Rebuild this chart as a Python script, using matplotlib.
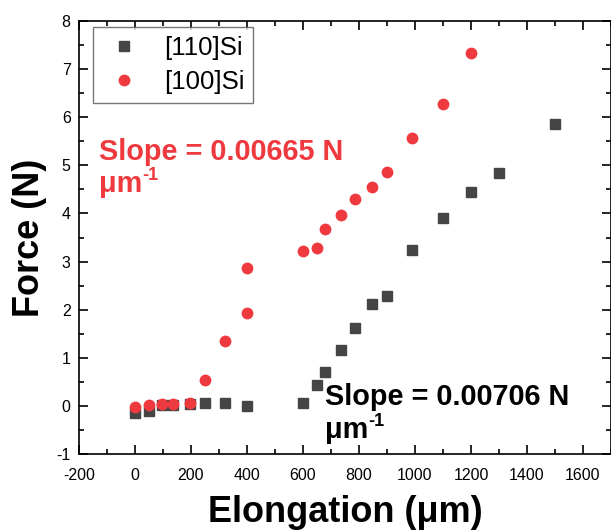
import matplotlib
matplotlib.use("Agg")
import matplotlib.pyplot as plt
from matplotlib.ticker import MultipleLocator

plt.rcParams["font.family"] = ["Liberation Sans", "DejaVu Sans"]
plt.rcParams["axes.unicode_minus"] = False

# [110]Si (squares)
x_110 = [0, 50, 95, 135, 197, 250, 320, 400, 601, 649, 680, 735, 784, 845, 900, 991, 1100, 1200, 1299, 1499]
f_110 = [-0.14, -0.10, 0.02, 0.02, 0.04, 0.06, 0.07, 0.0, 0.05, 0.44, 0.70, 1.17, 1.61, 2.11, 2.28, 3.23, 3.91, 4.45, 4.85, 5.85]

# [100]Si (circles)
x_100 = [0, 50, 95, 135, 197, 250, 320, 400, 400, 601, 649, 680, 735, 784, 845, 900, 991, 1100, 1200]
f_100 = [-0.03, 0.02, 0.04, 0.04, 0.07, 0.53, 1.35, 1.94, 2.86, 3.21, 3.29, 3.67, 3.96, 4.31, 4.56, 4.87, 5.57, 6.28, 7.33]

RED = "#EE3A3F"
GREY = "#454545"

fig = plt.figure(figsize=(6.11, 5.32), dpi=100)
ax = fig.add_axes([79 / 611, 78 / 532, 532 / 611, 433 / 532])

ax.plot(x_110, f_110, "s", color=GREY, markersize=7.5, label="[110]Si")
ax.plot(x_100, f_100, "o", color=RED, markersize=8.5, markeredgewidth=0, label="[100]Si")

ax.set_xlim(-200, 1700)
ax.set_ylim(-1, 8)
ax.set_xticks(range(-200, 1601, 200))
ax.xaxis.set_minor_locator(MultipleLocator(100))
ax.yaxis.set_major_locator(MultipleLocator(1))
ax.yaxis.set_minor_locator(MultipleLocator(0.5))

ax.tick_params(which="both", direction="in", top=True, right=True, width=1.2)
ax.tick_params(which="major", length=6.5, labelsize=11.5)
ax.tick_params(which="minor", length=3.6)
ax.tick_params(axis="x", which="major", pad=10)
ax.tick_params(axis="y", which="major", pad=6)
for s in ax.spines.values():
    s.set_linewidth(1.2)

ax.set_xlabel("Elongation (μm)", fontsize=26, fontweight="bold", labelpad=9)
ax.set_ylabel("Force (N)", fontsize=26, fontweight="bold", labelpad=7)


def slope_note(x, y, text, color):
    # two lines: value, then the unit with a raised "-1"
    ax.text(x, y, text, color=color, fontsize=20.8, fontweight="bold")
    unit = ax.text(x, y - 0.68, "μm", color=color, fontsize=20.8, fontweight="bold")
    ax.annotate("-1", xy=(1.0, 0.5), xycoords=unit, color=color,
                fontsize=13, fontweight="bold", ha="left", va="bottom")


slope_note(-129, 5.12, "Slope = 0.00665 N", RED)
slope_note(680, 0.02, "Slope = 0.00706 N", "black")

leg = ax.legend(loc="upper left", bbox_to_anchor=(0.026, 0.986), borderaxespad=0,
                fontsize=18.5, fancybox=False, edgecolor="#555555",
                handletextpad=0.66, borderpad=0.35, labelspacing=0.4,
                handlelength=1.75)
leg.get_frame().set_linewidth(1.0)

fig.savefig("out.png", dpi=100)
